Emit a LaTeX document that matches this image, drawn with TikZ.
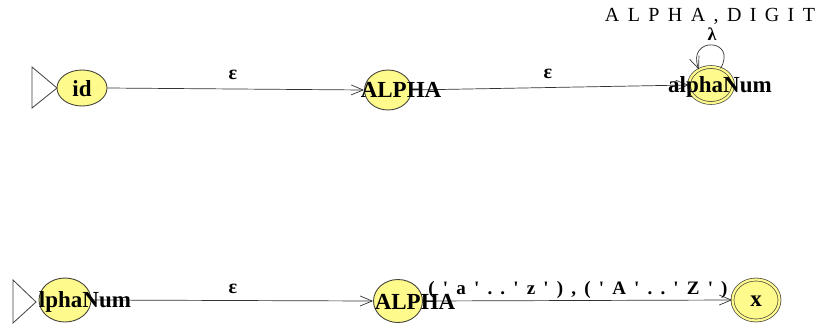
\documentclass[tikz,border=0pt]{standalone}
\usepackage{fontspec}
\setmainfont{Liberation Serif}
\newfontfamily\rangefont[Ligatures=TeXOff,LetterSpace=43,BoldFont={Liberation Serif Bold}]{Liberation Serif}
\usetikzlibrary{arrows.meta,shapes.geometric}
\definecolor{stfill}{RGB}{255,250,140}
\definecolor{stline}{RGB}{70,70,60}
\begin{document}
\begin{tikzpicture}[x=1pt,y=-1pt,
  st/.style={ellipse,draw=stline,line width=0.9pt,fill=stfill,inner sep=0pt},
  acc/.style={st,double=stfill,double distance=2.2pt,line width=0.7pt},
  txt/.style={font=\fontsize{23}{23}\selectfont\bfseries,inner sep=0pt},
  elab/.style={font=\fontsize{20}{20}\selectfont\bfseries,inner sep=0pt},
  spaced/.style={font=\fontsize{20}{20}\selectfont\addfontfeatures{LetterSpace=42},inner sep=0pt},
  arr/.style={-{Straight Barb[length=12pt,width=10pt,line width=0.7pt]},line width=0.7pt,draw=black!80},
  startmark/.style={draw=black!75,line width=0.8pt,fill=white}]
\useasboundingbox (0,0) rectangle (818,330);
\fill[white] (0,0) rectangle (818,330);
% start marks
\draw[startmark] (32,67) -- (57,88) -- (32,108) -- cycle;
\draw[startmark] (13,280) -- (36,302) -- (13,323) -- cycle;
% states row 1
\node[st,minimum width=50pt,minimum height=36pt] (id) at (82,88) {};
\node[st,minimum width=47pt,minimum height=40pt] (alphaA) at (388,90) {};
\node[acc,minimum width=44pt,minimum height=36pt] (an) at (711,85) {};
% states row 2
\node[st,minimum width=52pt,minimum height=44pt] (ln) at (65,300) {};
\node[st,minimum width=49pt,minimum height=43pt] (alphaB) at (398,301) {};
\node[acc,minimum width=47pt,minimum height=41pt] (xs) at (756,300) {};
% edges
\draw[arr] (id.east) -- (alphaA.west);
\draw[arr] (alphaA.east) -- (an.west);
\draw[arr] (an.60) .. controls (738,38) and (686,36) .. (an.128);
\draw[arr] (ln.east) -- (alphaB.west);
\draw[arr] (alphaB.east) -- (xs.west);
% state texts
\node[txt] (idt) at (82,89) {id};
\node[txt] (alphaAt) at (401,90) {ALPHA};
\node[txt] (ant) at (720,87) {alphaNum};
\node[txt] (lnt) at (85,302) {lphaNum};
\node[txt] (alphaBt) at (415,302) {ALPHA};
\node[txt] (xst) at (756,301) {x};
% edge labels
\node[elab] (e1) at (233,75) {ε};
\node[elab] (e2) at (548,74) {ε};
\node[elab] (e3) at (233,289) {ε};
\node[elab,font=\fontsize{18}{18}\selectfont\bfseries] (lam) at (712,34) {λ};
\node[spaced] (ad) at (710,16) {ALPHA,DIGIT};
\node[inner sep=0pt,font=\fontsize{19}{19}\rangefont\bfseries] (rng) at (578,290) {('a'..'z'),('A'..'Z')};
\end{tikzpicture}
\end{document}
